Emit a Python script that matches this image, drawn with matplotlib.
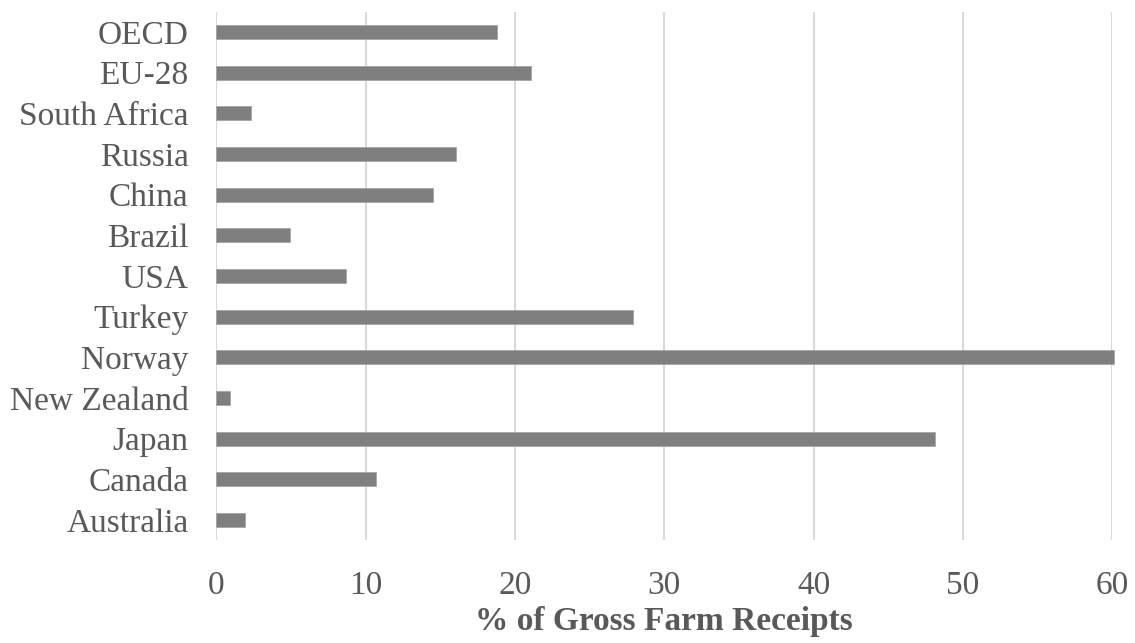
import matplotlib.pyplot as plt

# Producer support estimate by country, top to bottom as shown
countries = ['OECD', 'EU-28', 'South Africa', 'Russia', 'China', 'Brazil', 'USA',
             'Turkey', 'Norway', 'New Zealand', 'Japan', 'Canada', 'Australia']
pse = [18.8, 21.1, 2.3, 16.05, 14.5, 4.9, 8.7, 27.9, 60.1, 0.9, 48.1, 10.7, 1.95]
xticks = [0, 10, 20, 30, 40, 50, 60]

plt.rcParams['font.family'] = ['Liberation Serif', 'DejaVu Serif']
text_color = '#595959'

fig = plt.figure(figsize=(11.35, 6.43), dpi=100)
ax = fig.add_axes([0.1906, 0.1597, 0.7894, 0.8221])

ypos = list(range(len(countries)))[::-1]
bars = ax.barh(ypos, pse, height=0.345, color='#7f7f7f', edgecolor='#a6a6a6',
               linewidth=0.6, zorder=3)
for b in bars:
    b.set_clip_on(False)

ax.set_xlim(0, 60)
ax.set_ylim(-0.5, len(countries) - 0.5)
ax.set_xticks(xticks)
ax.set_yticks(ypos)
ax.set_yticklabels(countries)
ax.grid(axis='x', color='#d9d9d9', linewidth=1.5, zorder=0)
ax.tick_params(axis='both', length=0, labelsize=24, labelcolor=text_color)
ax.tick_params(axis='y', pad=20)
ax.tick_params(axis='x', pad=22)
for s in ax.spines.values():
    s.set_visible(False)

fig.text(0.585, 0.033, '% of Gross Farm Receipts', ha='center', va='center',
         fontsize=24, fontweight='bold', color=text_color)

fig.savefig('out.png', dpi=100)
